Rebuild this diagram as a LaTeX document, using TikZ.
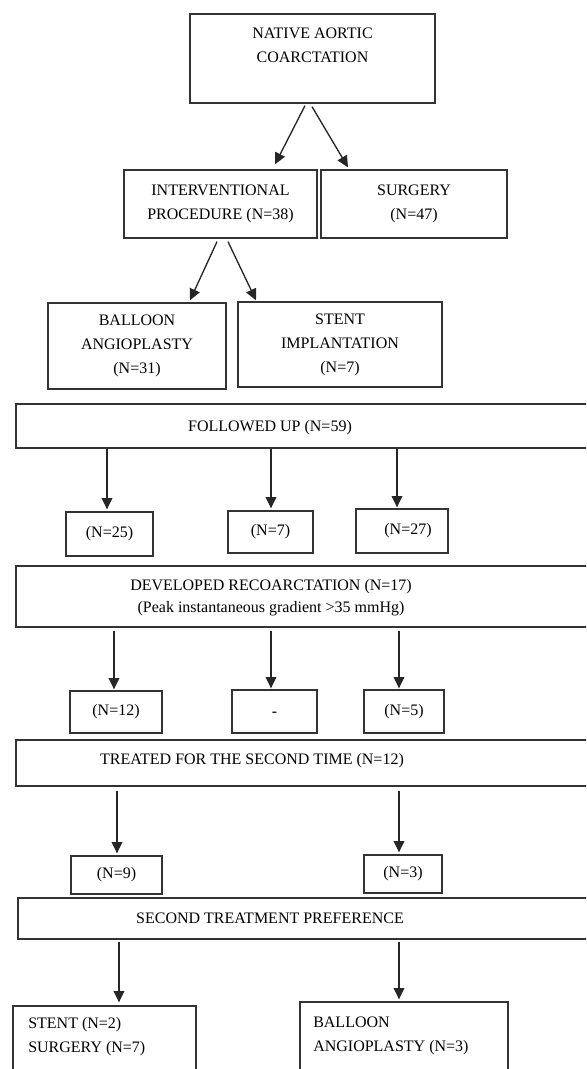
\documentclass[tikz,border=0pt]{standalone}
\usepackage{fontspec}
\setmainfont{Liberation Serif}
\usetikzlibrary{arrows.meta, positioning, calc}

\begin{document}
\begin{tikzpicture}[
    x=0.75pt, y=-0.75pt,
    myarrow/.style={-{Triangle[length=8.5pt, width=8pt]}, line width=1pt, black!85},
    mybox/.style={draw=black!80, line width=1pt, inner sep=0pt, align=center,
                  font=\fontsize{12}{18}\selectfont},
    boxtext/.style={align=center, inner sep=0pt, font=\fontsize{12}{18}\selectfont},
]

% ===================== FRAME =====================
\useasboundingbox (0,0) rectangle (586,1069);
\clip (0,0) rectangle (586,1069);

% ===================== START =====================
\node[mybox, minimum width=183.75pt, minimum height=66.75pt] (native) at (312.5,58.5) {};
\node[boxtext] (nativetxt) at (312.5,45) {NATIVE AORTIC\\COARCTATION};

% ===================== FIRST TREATMENT =====================
\node[mybox, minimum width=144.75pt, minimum height=51pt] (interv) at (220.5,204)
    {INTERVENTIONAL\\PROCEDURE (N=38)};
\node[mybox, minimum width=139.5pt, minimum height=51pt] (surgery) at (414,204)
    {SURGERY\\(N=47)};

\draw[myarrow] ($(native.south)+(-7.5,2)$) -- ($(interv.north)+(54.5,-5)$);
\draw[myarrow] ($(native.south)+(-0.5,3)$) -- ($(surgery.north)+(-66,-2)$);

% ===================== PROCEDURE TYPE =====================
\node[mybox, minimum width=133.5pt, minimum height=64.5pt] (balloon) at (137,346)
    {BALLOON\\ANGIOPLASTY\\(N=31)};
\node[mybox, minimum width=153pt, minimum height=63.75pt] (stent) at (340,344.5)
    {STENT\\IMPLANTATION\\(N=7)};

\draw[myarrow] ($(interv.south)+(-3.5,3)$) -- ($(balloon.north)+(53,-2)$);
\draw[myarrow] ($(interv.south)+(7.5,3)$) -- ($(stent.north)+(-84,-1)$);

% ===================== FOLLOW UP =====================
\node[mybox, minimum width=438pt, minimum height=33pt] (fu) at (308,426) {};
\node[boxtext] (futxt) at (270,428) {FOLLOWED UP (N=59)};

\node[mybox, minimum width=65.25pt, minimum height=33pt] (n25) at (109.5,534) {(N=25)};
\node[mybox, minimum width=63.75pt, minimum height=31.5pt] (n7) at (270.5,532) {(N=7)};
\node[mybox, minimum width=69pt, minimum height=33pt] (n27) at (402,531) {\hspace{9pt}(N=27)};

\draw[myarrow] ($(n25.north |- fu.south)+(-2.5,0)$) -- ($(n25.north)+(-2.5,-2)$);
\draw[myarrow] ($(n7.north |- fu.south)+(0.5,0)$) -- ($(n7.north)+(0.5,-2)$);
\draw[myarrow] ($(n27.north |- fu.south)+(-5,0)$) -- ($(n27.north)+(-5,-1)$);

% ===================== RECOARCTATION =====================
\node[mybox, minimum width=438pt, minimum height=45.75pt] (dev) at (308,596.5) {};
\node[boxtext, font=\fontsize{12}{16.5}\selectfont] (devtxt) at (271,598)
    {DEVELOPED RECOARCTATION (N=17)\\(Peak instantaneous gradient >35 mmHg)};

\node[mybox, minimum width=69pt, minimum height=31.5pt] (n12) at (116,712) {(N=12)};
\node[mybox, minimum width=63.75pt, minimum height=32.25pt] (ndash) at (274.5,711.5) {};
\node[boxtext] (ndashtxt) at (274.5,714) {-};
\node[mybox, minimum width=60pt, minimum height=32.25pt] (n5) at (404,711.5) {(N=5)};

\draw[myarrow] ($(n12.north |- dev.south)+(-2,3)$) -- ($(n12.north)+(-2,-1)$);
\draw[myarrow] ($(ndash.north |- dev.south)+(-3.5,3)$) -- ($(ndash.north)+(-3.5,-1)$);
\draw[myarrow] ($(n5.north |- dev.south)+(-5,3)$) -- ($(n5.north)+(-5,-1)$);

% ===================== SECOND TREATMENT =====================
\node[mybox, minimum width=438pt, minimum height=34.5pt] (treated) at (308,763) {};
\node[boxtext] (treatedtxt) at (252,761) {TREATED FOR THE SECOND TIME (N=12)};

\node[mybox, minimum width=68.25pt, minimum height=28.5pt] (n9) at (116.5,875) {(N=9)};
\node[mybox, minimum width=58.5pt, minimum height=28.5pt] (n3) at (403,874) {(N=3)};

\draw[myarrow] ($(n9.north |- treated.south)+(0.5,4)$) -- ($(n9.north)+(0.5,-2)$);
\draw[myarrow] ($(n3.north |- treated.south)+(-4,4)$) -- ($(n3.north)+(-4,-2)$);

% ===================== PREFERENCE =====================
\node[mybox, minimum width=436.5pt, minimum height=30.75pt] (pref) at (309,918.5) {};
\node[boxtext] (preftxt) at (270,918) {SECOND TREATMENT PREFERENCE};

\node[mybox, minimum width=137.25pt, minimum height=70.5pt] (final1) at (104.5,1053) {};
\node[boxtext, anchor=west, align=left] (final1txt) at (28,1037)
    {STENT (N=2)\\SURGERY (N=7)};
\node[mybox, minimum width=156pt, minimum height=73.5pt] (final2) at (404,1051) {};
\node[boxtext, anchor=west, align=left] (final2txt) at (313,1035.5)
    {BALLOON\\ANGIOPLASTY (N=3)};

\draw[myarrow] ($(final1.north |- pref.south)+(14.5,2)$) -- ($(final1.north)+(14.5,-3)$);
\draw[myarrow] ($(final2.north |- pref.south)+(-5,2)$) -- ($(final2.north)+(-5,-2)$);

\end{tikzpicture}
\end{document}
